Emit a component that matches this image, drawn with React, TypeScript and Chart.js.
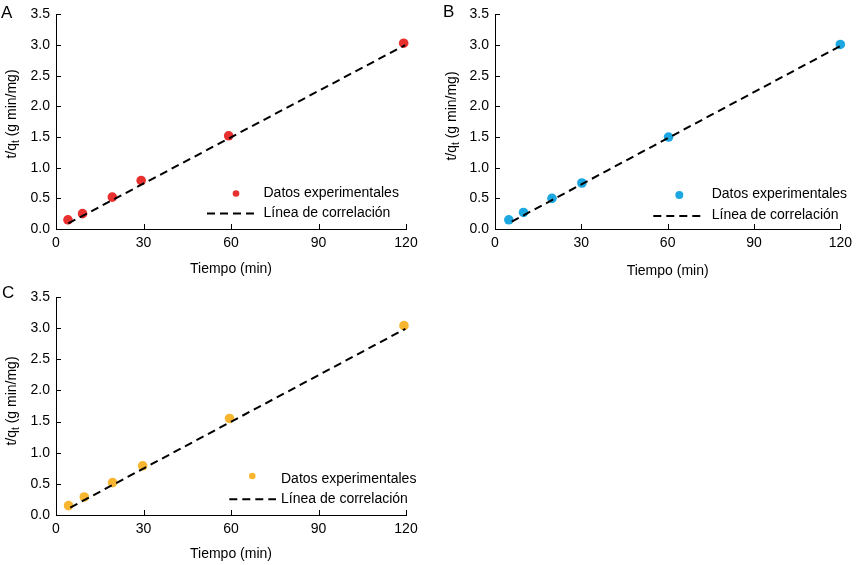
import React, { useEffect, useRef } from "react";
import { Chart, registerables } from "chart.js";

Chart.register(...registerables);

const FONT = "'Liberation Sans', Arial, Helvetica, sans-serif";

// ---- data ----
const xTickValues = [0, 30, 60, 90, 120];
const yMin = 0;
const yMax = 3.5;
const yStep = 0.5;
const xMin = 0;
const xMax = 120;
const xStep = 30;

const xTitle = "Tiempo (min)";
const yTitleMain = "t/q";
const yTitleSub = "t";
const yTitleRest = " (g min/mg)";
const seriesLabel = "Datos experimentales";
const fitLabel = "Línea de correlación";

const timeA = [4.1, 9.1, 19.3, 29.2, 59.2, 119.2];
const valuesA = [0.15, 0.25, 0.52, 0.79, 1.52, 3.03];
const fitTimeA = [4.2, 119.7];
const fitValuesA = [0.09, 3.0];

const timeB = [4.8, 9.9, 19.8, 30.2, 60.3, 120];
const valuesB = [0.15, 0.27, 0.5, 0.75, 1.5, 3.01];
const fitTimeB = [5.8, 119.8];
const fitValuesB = [0.12, 2.98];

const timeC = [4.3, 9.7, 19.4, 29.7, 59.5, 119.3];
const valuesC = [0.15, 0.29, 0.52, 0.79, 1.55, 3.04];
const fitTimeC = [4.9, 119.8];
const fitValuesC = [0.12, 2.99];

// ---- layout (page pixels) ----
type Panel = {
  letter: string;
  color: string;
  time: number[];
  values: number[];
  fitTime: number[];
  fitValues: number[];
  left: number;
  top: number;
  w: number;
  h: number;
  L: number;
  R: number;
  T: number;
  B: number;
  xTitleY: number;
  yTitleX: number;
  yTitleY: number;
  letterX: number;
  letterY: number;
  legMarker: [number, number];
  legMarkerR: number;
  legDash: [number, number, number];
  legTextX: number;
  legTextY: [number, number];
};

const panels: Panel[] = [
  {
    letter: "A",
    color: "#e8312f",
    time: timeA,
    values: valuesA,
    fitTime: fitTimeA,
    fitValues: fitValuesA,
    left: 0,
    top: 0,
    w: 429,
    h: 282,
    L: 56,
    R: 406,
    T: 12,
    B: 229,
    xTitleY: 269,
    yTitleX: 15.5,
    yTitleY: 114,
    letterX: 1,
    letterY: 18,
    legMarker: [236, 193.5],
    legMarkerR: 3.3,
    legDash: [207, 257, 213.5],
    legTextX: 263.5,
    legTextY: [193.5, 213.5],
  },
  {
    letter: "B",
    color: "#1ca7e1",
    time: timeB,
    values: valuesB,
    fitTime: fitTimeB,
    fitValues: fitValuesB,
    left: 429,
    top: 0,
    w: 429,
    h: 282,
    L: 495,
    R: 843,
    T: 11,
    B: 229,
    xTitleY: 270.7,
    yTitleX: 456,
    yTitleY: 116,
    letterX: 443,
    letterY: 17,
    legMarker: [679.3, 195],
    legMarkerR: 4,
    legDash: [653.3, 705.3, 216],
    legTextX: 711.7,
    legTextY: [194.5, 215.5],
  },
  {
    letter: "C",
    color: "#f8b52f",
    time: timeC,
    values: valuesC,
    fitTime: fitTimeC,
    fitValues: fitValuesC,
    left: 0,
    top: 282,
    w: 429,
    h: 283,
    L: 56,
    R: 406,
    T: 297,
    B: 515,
    xTitleY: 554,
    yTitleX: 15.5,
    yTitleY: 401,
    letterX: 2,
    letterY: 298.3,
    legMarker: [252.3, 476],
    legMarkerR: 3.3,
    legDash: [229.3, 276, 499.3],
    legTextX: 281,
    legTextY: [478.8, 498.7],
  },
];

function PanelChart({ p }: { p: Panel }) {
  const ref = useRef<HTMLCanvasElement | null>(null);

  useEffect(() => {
    const canvas = ref.current;
    if (!canvas) return;
    const ox = p.left;
    const oy = p.top;
    const yW = p.L - p.left;
    const xH = p.top + p.h - p.B;
    const padTop = p.T - p.top;
    const padRight = p.left + p.w - p.R;
    const titlePadBottom = p.top + p.h - 8.4 - p.xTitleY;

    const decor = {
      id: "decor" + p.letter,
      afterDraw(chart: any) {
        const ctx = chart.ctx as CanvasRenderingContext2D;
        const xs = chart.scales.x;
        const ys = chart.scales.y;
        ctx.save();
        // inward ticks
        ctx.strokeStyle = "#000";
        ctx.lineWidth = 1;
        ctx.beginPath();
        xs.ticks.forEach((t: any) => {
          const px = Math.round(xs.getPixelForValue(t.value)) + 0.5;
          ctx.moveTo(px, ys.bottom);
          ctx.lineTo(px, ys.bottom - 5);
        });
        ys.ticks.forEach((t: any) => {
          const py = Math.round(ys.getPixelForValue(t.value)) + 0.5;
          ctx.moveTo(xs.left, py);
          ctx.lineTo(xs.left + 5, py);
        });
        ctx.stroke();

        // y title with subscript
        ctx.fillStyle = "#000";
        const big = `14px ${FONT}`;
        const small = `10px ${FONT}`;
        ctx.font = big;
        const w1 = ctx.measureText(yTitleMain).width;
        const w3 = ctx.measureText(yTitleRest).width;
        ctx.font = small;
        const w2 = ctx.measureText(yTitleSub).width;
        const total = w1 + w2 + w3;
        ctx.save();
        ctx.translate(p.yTitleX - ox, p.yTitleY - oy);
        ctx.rotate(-Math.PI / 2);
        ctx.textBaseline = "alphabetic";
        ctx.textAlign = "left";
        let u = -total / 2;
        ctx.font = big;
        ctx.fillText(yTitleMain, u, 0);
        u += w1;
        ctx.font = small;
        ctx.fillText(yTitleSub, u, 3);
        u += w2;
        ctx.font = big;
        ctx.fillText(yTitleRest, u, 0);
        ctx.restore();

        // panel letter
        ctx.font = `17px ${FONT}`;
        ctx.textBaseline = "alphabetic";
        ctx.textAlign = "left";
        ctx.fillText(p.letter, p.letterX - ox, p.letterY - oy);

        // legend
        const dsPts = chart.data.datasets[0];
        const dsFit = chart.data.datasets[1];
        ctx.fillStyle = dsPts.backgroundColor;
        ctx.beginPath();
        ctx.arc(p.legMarker[0] - ox, p.legMarker[1] - oy, p.legMarkerR, 0, Math.PI * 2);
        ctx.fill();
        ctx.strokeStyle = dsFit.borderColor;
        ctx.lineWidth = dsFit.borderWidth;
        ctx.setLineDash(dsFit.borderDash);
        ctx.beginPath();
        ctx.moveTo(p.legDash[0] - ox, p.legDash[2] - oy);
        ctx.lineTo(p.legDash[1] - ox, p.legDash[2] - oy);
        ctx.stroke();
        ctx.setLineDash([]);
        ctx.fillStyle = "#000";
        ctx.font = `14px ${FONT}`;
        ctx.textBaseline = "middle";
        ctx.fillText(dsPts.label, p.legTextX - ox, p.legTextY[0] - oy);
        ctx.fillText(dsFit.label, p.legTextX - ox, p.legTextY[1] - oy);
        ctx.restore();
      },
    };

    const chart = new Chart(canvas, {
      type: "scatter",
      data: {
        datasets: [
          {
            type: "scatter",
            label: seriesLabel,
            data: p.time.map((t, i) => ({ x: t, y: p.values[i] })),
            backgroundColor: p.color,
            borderColor: p.color,
            borderWidth: 0,
            pointRadius: 4.8,
            pointHoverRadius: 4.8,
            order: 1,
            clip: false,
          } as any,
          {
            type: "scatter",
            label: fitLabel,
            data: p.fitTime.map((t, i) => ({ x: t, y: p.fitValues[i] })),
            showLine: true,
            borderColor: "#000",
            backgroundColor: "#000",
            borderWidth: 2,
            borderDash: [8, 5],
            pointRadius: 0,
            pointHoverRadius: 0,
            order: 0,
            clip: false,
          } as any,
        ],
      },
      options: {
        responsive: false,
        animation: false,
        events: [],
        devicePixelRatio: 1,
        layout: {
          padding: { left: 0, top: padTop, right: padRight, bottom: 0 },
        },
        plugins: {
          legend: { display: false },
          tooltip: { enabled: false },
        },
        scales: {
          x: {
            type: "linear",
            min: xMin,
            max: xMax,
            afterFit: (s: any) => {
              s.height = xH;
            },
            afterBuildTicks: (s: any) => {
              s.ticks = xTickValues.map((v) => ({ value: v }));
            },
            ticks: {
              stepSize: xStep,
              color: "#000",
              padding: 6,
              font: { family: FONT, size: 14 },
              maxRotation: 0,
              callback: (v: any) => String(v),
            },
            grid: { display: true, drawOnChartArea: false, drawTicks: false, color: "#000" },
            border: { display: true, color: "#000", width: 1 },
            title: {
              display: true,
              text: xTitle,
              color: "#000",
              font: { family: FONT, size: 14 },
              padding: { top: 0, bottom: titlePadBottom },
            },
          },
          y: {
            type: "linear",
            min: yMin,
            max: yMax,
            afterFit: (s: any) => {
              s.width = yW;
            },
            ticks: {
              stepSize: yStep,
              color: "#000",
              padding: 6,
              font: { family: FONT, size: 14 },
              callback: (v: any) => Number(v).toFixed(1),
            },
            grid: { display: true, drawOnChartArea: false, drawTicks: false, color: "#000" },
            border: { display: true, color: "#000", width: 1 },
          },
        },
      } as any,
      plugins: [decor],
    });
    return () => chart.destroy();
  }, [p]);

  return (
    <canvas
      ref={ref}
      width={p.w}
      height={p.h}
      style={{
        position: "absolute",
        left: p.left,
        top: p.top,
        width: p.w,
        height: p.h,
      }}
    />
  );
}

export default function App() {
  return (
    <div
      style={{
        position: "absolute",
        left: 0,
        top: 0,
        width: 858,
        height: 565,
        background: "#fff",
        overflow: "hidden",
      }}
    >
      {panels.map((p) => (
        <PanelChart key={p.letter} p={p} />
      ))}
    </div>
  );
}
